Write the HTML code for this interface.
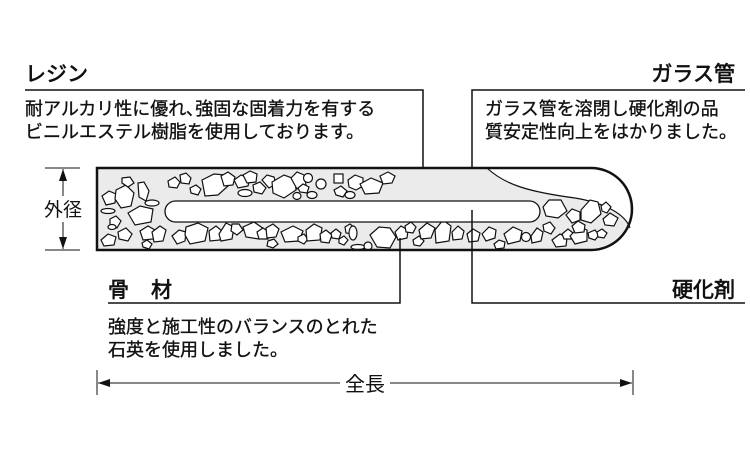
<!DOCTYPE html>
<html><head><meta charset="utf-8"><style>
html,body{margin:0;padding:0;background:#fff;width:750px;height:450px;overflow:hidden}
svg{display:block}
text{font-family:"Liberation Sans","Noto Sans CJK JP",sans-serif;fill:#111}
.h{font-size:21px;stroke:#111;stroke-width:0.7}
.b{font-size:18px;stroke:#111;stroke-width:0.35}
</style></head><body>
<svg width="750" height="450" viewBox="0 0 750 450" xmlns="http://www.w3.org/2000/svg">
<defs>
<marker id="ar" markerWidth="12" markerHeight="8" refX="12" refY="4" orient="auto" markerUnits="userSpaceOnUse"><path d="M0,0 L12,4 L0,8 Z" fill="#111"/></marker>
</defs>
<text class="h" x="25" y="81">レジン</text>
<text class="h" x="735" y="81" text-anchor="end">ガラス管</text>
<path d="M25 90 H423 V183" fill="none" stroke="#111" stroke-width="1.5"/>
<path d="M472 168 V90 H745" fill="none" stroke="#111" stroke-width="1.5"/>
<text class="b" x="25" y="115">耐アルカリ性に優れ､強固な固着力を有する</text>
<text class="b" x="25" y="138">ビニルエステル樹脂を使用しております。</text>
<text class="b" x="485" y="115">ガラス管を溶閉し硬化剤の品</text>
<text class="b" x="485" y="138">質安定性向上をはかりました。</text>
<path d="M97 168 H591 A41 41 0 0 1 591 250 H97 Z" fill="#ebebeb"/>
<path d="M487 168 C505 185 530 192 575 198 C605 203 625 214 630 228 C633 200 625 168 591 168 Z" fill="#fff"/>
<path d="M487 168 C505 185 530 192 575 198 C605 203 625 214 630 228" fill="none" stroke="#111" stroke-width="1.2"/>
<g fill="#fff" stroke="#111" stroke-width="1.2">
<path d="M102 196 l7-5 7 3-1 9-9 2z"/><path d="M116 190 l10-5 8 8-3 13-10 2-6-9z"/><path d="M122 178 l8-1 4 6-6 4-6-4z"/>
<path d="M138 183 l6-1 5 9-3 10-7-4z"/><path d="M128 213 l12-7 13 3-2 13-16 3z"/><ellipse cx="108" cy="211" rx="7" ry="2.5"/>
<ellipse cx="152" cy="203" rx="7" ry="3"/><path d="M110 219 l6-3 5 5-4 7-7-3z"/><path d="M101 240 l7-6 8 3-2 8-10 1z"/>
<path d="M118 232 l8-4 6 6-4 7-9-2z"/><path d="M140 231 l8-5 7 4-2 9-10 1z"/><path d="M152 232 l8-6 6 4-3 11-9 1z"/>
<ellipse cx="112" cy="227" rx="4" ry="2.5"/><path d="M142 243 l5-3 5 4-3 5-6-2z"/>
<path d="M168 181 l7-4 5 5-3 6-8-1z"/><path d="M180 175 l6-2 5 5-2 6-8-1z"/><path d="M202 180 l12-6 12 1 2 11-10 9-13 1z"/>
<path d="M221 176 l7-4 7 5-2 8-9 1z"/><path d="M234 180 l7-5 9 3-2 8-10 2z"/><ellipse cx="245" cy="193" rx="7" ry="3.5"/>
<path d="M243 175 l7-4 7 3-1 8-9 1z"/><path d="M253 185 l7-3 6 6-4 6-8-2z"/><path d="M262 180 l5-5 7 2 2 7-7 4z"/>
<path d="M272 182 l12-7 11 4 1 11-12 8-11-5z"/><path d="M291 178 l6-6 7 3 2 10-9 4z"/><path d="M298 188 l5-4 6 3-2 6-7-1z"/>
<circle cx="308" cy="178" r="4.5"/><circle cx="321" cy="184" r="5"/><rect x="334" y="174" width="9" height="9"/>
<path d="M334 190 l7-4 6 5-4 6-7-2z"/><path d="M348 180 l7-5 8 3 0 8-7 4-7-3z"/><path d="M360 184 l11-6 12 5-4 10-14 1z"/>
<ellipse cx="312" cy="195" rx="5" ry="3.5"/><ellipse cx="297" cy="196" rx="4" ry="3.5"/><ellipse cx="350" cy="195" rx="5" ry="3.5"/>
<path d="M380 176 l8-4 7 4-3 7-9 1z"/><path d="M190 188 l6-3 5 4-3 6-7-2z"/>
<path d="M172 236 l7-6 7 2-1 9-8 3z"/><path d="M186 227 l12-4 10 5-3 13-15 3-5-9z"/><path d="M209 231 l7-5 6 5-2 9-10 1z"/>
<path d="M219 234 l7-11 8 4-2 12-11 2z"/><path d="M232 224 l7 0 4 6-6 5-6-4z"/><path d="M243 227 l11-5 10 7-5 10-13-2z"/>
<path d="M257 232 l6-4 6 4-1 7-9 0z"/><path d="M266 228 l7-4 6 5-3 8-9 1z"/><path d="M268 241 l6-2 4 5-5 4-6-2z"/>
<path d="M281 232 l12-6 10 5-4 10-14 1z"/><path d="M298 237 l6-3 4 5-4 5-6-3z"/><path d="M306 230 l8-6 8 4-2 12-13 1z"/>
<path d="M320 234 l6-4 6 5-3 8-8-1z"/><path d="M331 233 l5-4 5 4-2 6-7-1z"/><path d="M339 239 l5-3 4 4-4 5-5-2z"/>
<path d="M345 227 l5-3 5 4-2 6-7-1z"/><ellipse cx="353" cy="233" rx="4" ry="7"/><ellipse cx="358" cy="247" rx="7" ry="2.5"/>
<path d="M370 235 l9-8 11 1 6 9-6 11-13-1z"/><circle cx="368" cy="246" r="4"/><path d="M395 232 l6-6 7 4-1 8-9 2z"/>
<path d="M405 226 l6-4 5 5-3 6-7-1z"/><path d="M413 240 l6-4 5 5-4 5-6-1z"/><path d="M419 230 l8-7 8 5-4 10-10 1z"/>
<path d="M435 230 l8-10 8 6-2 15-13 2z"/><path d="M452 232 l6-6 6 5-2 8-9 1z"/><path d="M467 234 l6-5 7 4-2 8-9 1z"/>
<path d="M482 234 l7-7 7 3-1 8-9 3z"/><path d="M494 244 l5-4 6 2-1 6-8 1z"/><path d="M504 234 l9-7 9 4-2 10-12 3z"/>
<circle cx="526" cy="237" r="4.5"/><path d="M531 236 l6-8 6 4-2 9-9 2z"/><path d="M543 225 l7-3 5 6-4 6-7-3z"/>
<path d="M552 240 l8-6 7 4-1 8-10 1z"/><path d="M562 234 l6-5 5 4-2 6-7 0z"/><path d="M570 236 l9-9 8 3 0 11-12 3z"/>
<path d="M588 233 l7-3 4 5-4 5-6-2z"/>
<path d="M543 207 l6-7 12 0 6 11-9 7-12-2z"/><path d="M566 215 l6-6 8 3 0 8-8 3z"/>
<path d="M581 210 l9-10 8 2 3 12-10 9-10-3z"/><path d="M601 206 l5-4 5 5-4 6-5-2z"/><path d="M603 219 l7-6 8 5-4 8-9-1z"/>
<path d="M597 232 l5-3 5 4-3 5-6-1z"/><path d="M572 226 l6-5 7 4-1 7-9 1z"/>
</g>
<rect x="165" y="201" width="375" height="21" rx="10.5" fill="#fff" stroke="#111" stroke-width="1.3"/>
<path d="M97 168 H591 A41 41 0 0 1 591 250 H97 Z" fill="none" stroke="#111" stroke-width="2.5"/>
<path d="M108 303 H400 V238" fill="none" stroke="#111" stroke-width="1.5"/>
<path d="M472 210 V303 H745" fill="none" stroke="#111" stroke-width="1.5"/>
<text class="h" x="108" y="297">骨</text><text class="h" x="151" y="297">材</text>
<text class="h" x="735" y="297" text-anchor="end">硬化剤</text>
<text class="b" x="108" y="333">強度と施工性のバランスのとれた</text>
<text class="b" x="108" y="356">石英を使用しました。</text>
<path d="M45 168 H80 M45 250 H80" stroke="#111" stroke-width="1"/>
<line x1="63" y1="196" x2="63" y2="169" stroke="#111" stroke-width="1" marker-end="url(#ar)"/>
<line x1="63" y1="222" x2="63" y2="249" stroke="#111" stroke-width="1" marker-end="url(#ar)"/>
<text x="63" y="216" text-anchor="middle" style="font-size:19px">外径</text>
<path d="M97 370 V395 M633 370 V395" stroke="#111" stroke-width="1"/>
<line x1="340" y1="383" x2="98" y2="383" stroke="#111" stroke-width="1" marker-end="url(#ar)"/>
<line x1="390" y1="383" x2="632" y2="383" stroke="#111" stroke-width="1" marker-end="url(#ar)"/>
<text x="365" y="391" text-anchor="middle" style="font-size:20px">全長</text>
</svg>
</body></html>
